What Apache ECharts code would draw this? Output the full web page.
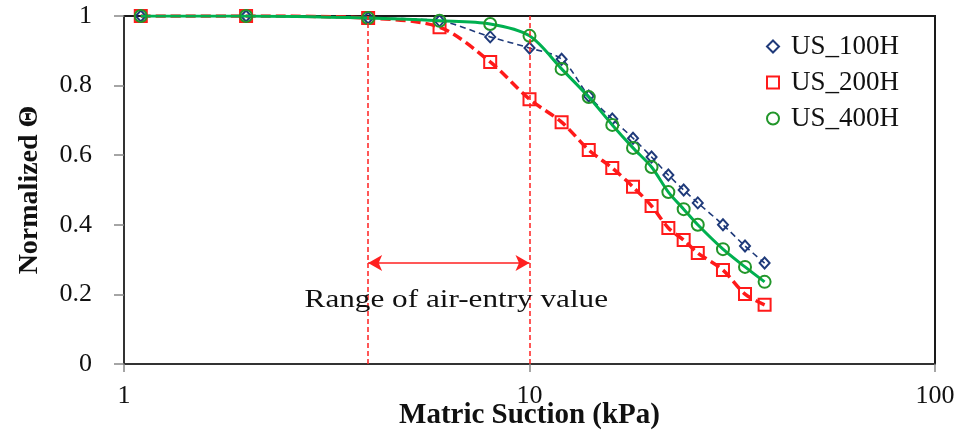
<!DOCTYPE html>
<html><head><meta charset="utf-8">
<script src="https://cdn.jsdelivr.net/npm/echarts@6/dist/echarts.min.js"></script>
<style>html,body{margin:0;padding:0;background:#fff}#c{width:961px;height:430px}</style>
</head><body><div id="c"></div>
<script>
const suction = [1.1, 2, 4, 6, 8, 10, 12, 14, 16, 18, 20, 22, 24, 26, 30, 34, 38];
const us100H = [1, 1, 0.994, 0.986, 0.94, 0.908, 0.876, 0.77, 0.704, 0.649, 0.595, 0.543, 0.5, 0.463, 0.40, 0.339, 0.29];
const us200H = [1, 1, 0.994, 0.968, 0.868, 0.761, 0.695, 0.615, 0.563, 0.509, 0.454, 0.391, 0.356, 0.319, 0.27, 0.201, 0.17];
const us400H = [1, 1, 0.994, 0.986, 0.977, 0.943, 0.848, 0.767, 0.687, 0.621, 0.566, 0.494, 0.445, 0.40, 0.33, 0.279, 0.236];
const seriesNames = ['US_100H', 'US_200H', 'US_400H'];
const yMin = 0, yMax = 1, yStep = 0.2;
const xMin = 1, xMax = 100;
const airEntryRange = [4, 10];
const arrowY = 0.29;
const annotationText = 'Range of air-entry value';
const annotationPos = [6.6, 0.184];

const FONT = '"Liberation Serif", "Times New Roman", serif';
const pair = (xs, ys) => xs.map((x, i) => [x, ys[i]]);

const chart = echarts.init(document.getElementById('c'), null, {renderer: 'canvas'});
chart.setOption({
  animation: false,
  backgroundColor: '#fff',
  grid: {left: 124, right: 26, top: 16, bottom: 66, show: true, borderColor: '#1a1a1a', borderWidth: 2, containLabel: false, outerBoundsMode: 'none'},
  legend: {
    orient: 'vertical', left: 761, top: 28, itemGap: 9, itemWidth: 12, itemHeight: 12,
    textStyle: {fontFamily: FONT, fontSize: 27, color: '#111', padding: [0, 0, 0, 7]},
    data: [
      {name: seriesNames[0], icon: 'diamond', itemStyle: {color: 'rgba(0,0,0,0)', borderColor: '#1F3A7A', borderWidth: 2}},
      {name: seriesNames[1], icon: 'rect', itemStyle: {color: 'rgba(0,0,0,0)', borderColor: '#FF1A1A', borderWidth: 2}},
      {name: seriesNames[2], icon: 'circle', itemStyle: {color: 'rgba(0,0,0,0)', borderColor: '#22962A', borderWidth: 2}}
    ]
  },
  xAxis: {
    type: 'log', logBase: 10, min: xMin, max: xMax,
    name: 'Matric Suction (kPa)', nameLocation: 'middle', nameGap: 37, nameMoveOverlap: false,
    nameTextStyle: {fontFamily: FONT, fontSize: 29, fontWeight: 'bold', color: '#111'},
    axisLine: {show: true, lineStyle: {color: '#333', width: 2}},
    axisTick: {show: true, inside: false, length: 8, lineStyle: {color: '#888', width: 1.5}},
    minorTick: {show: false},
    splitLine: {show: false},
    axisLabel: {fontFamily: FONT, fontSize: 26, color: '#111', margin: 19}
  },
  yAxis: {
    type: 'value', min: yMin, max: yMax, interval: yStep,
    name: 'Normalized Θ', nameLocation: 'middle', nameGap: 80, nameRotate: 90,
    nameTextStyle: {fontFamily: FONT, fontSize: 28, fontWeight: 'bold', color: '#111'},
    axisLine: {show: true, lineStyle: {color: '#333', width: 2}},
    axisTick: {show: true, inside: false, length: 10, lineStyle: {color: '#888', width: 1.5}},
    splitLine: {show: false},
    axisLabel: {fontFamily: FONT, fontSize: 26, color: '#111', margin: 32}
  },
  series: [
    {
      name: 'annotation', type: 'scatter', symbolSize: 0, silent: true, z: 1,
      itemStyle: {color: 'rgba(0,0,0,0)'},
      data: [annotationPos],
      markLine: {
        silent: true, symbol: ['none', 'none'], label: {show: false},
        lineStyle: {color: '#FF2020', type: [5, 3], width: 1.5},
        data: [
          {xAxis: airEntryRange[0]},
          {xAxis: airEntryRange[1]},
          [
            {coord: [airEntryRange[0], arrowY], symbol: 'arrow', symbolSize: [12, 14], lineStyle: {type: 'solid', width: 1.5, color: '#FF2020'}},
            {coord: [airEntryRange[1], arrowY], symbol: 'arrow', symbolSize: [12, 14]}
          ]
        ]
      }
    },
    {
      name: seriesNames[0], type: 'line', smooth: 0.3, z: 3,
      data: pair(suction, us100H),
      symbol: 'diamond', symbolSize: [10, 11],
      itemStyle: {color: 'rgba(0,0,0,0)', borderColor: '#1F3A7A', borderWidth: 2},
      lineStyle: {color: '#1F3A7A', width: 1.6, type: [6, 4]}
    },
    {
      name: seriesNames[1], type: 'line', smooth: 0.3, z: 2,
      data: pair(suction, us200H),
      symbol: 'rect', symbolSize: 12,
      itemStyle: {color: 'rgba(0,0,0,0)', borderColor: '#FF1A1A', borderWidth: 2},
      lineStyle: {color: '#FF1A1A', width: 3.5, type: [10, 5]}
    },
    {
      name: seriesNames[2], type: 'line', smooth: 0.3, z: 4,
      data: pair(suction, us400H),
      symbol: 'circle', symbolSize: 12,
      itemStyle: {color: 'rgba(0,0,0,0)', borderColor: '#22962A', borderWidth: 2},
      lineStyle: {color: '#00B050', width: 3}
    }
  ]
});
const p = chart.convertToPixel({seriesIndex: 0}, annotationPos);
chart.setOption({
  graphic: [{
    type: 'text', x: p[0], y: p[1], scaleX: 1.2, z: 10, silent: true,
    style: {text: annotationText, fontFamily: FONT, fontSize: 26, fill: '#111', align: 'center', verticalAlign: 'middle'}
  }]
});
</script>
</body></html>
